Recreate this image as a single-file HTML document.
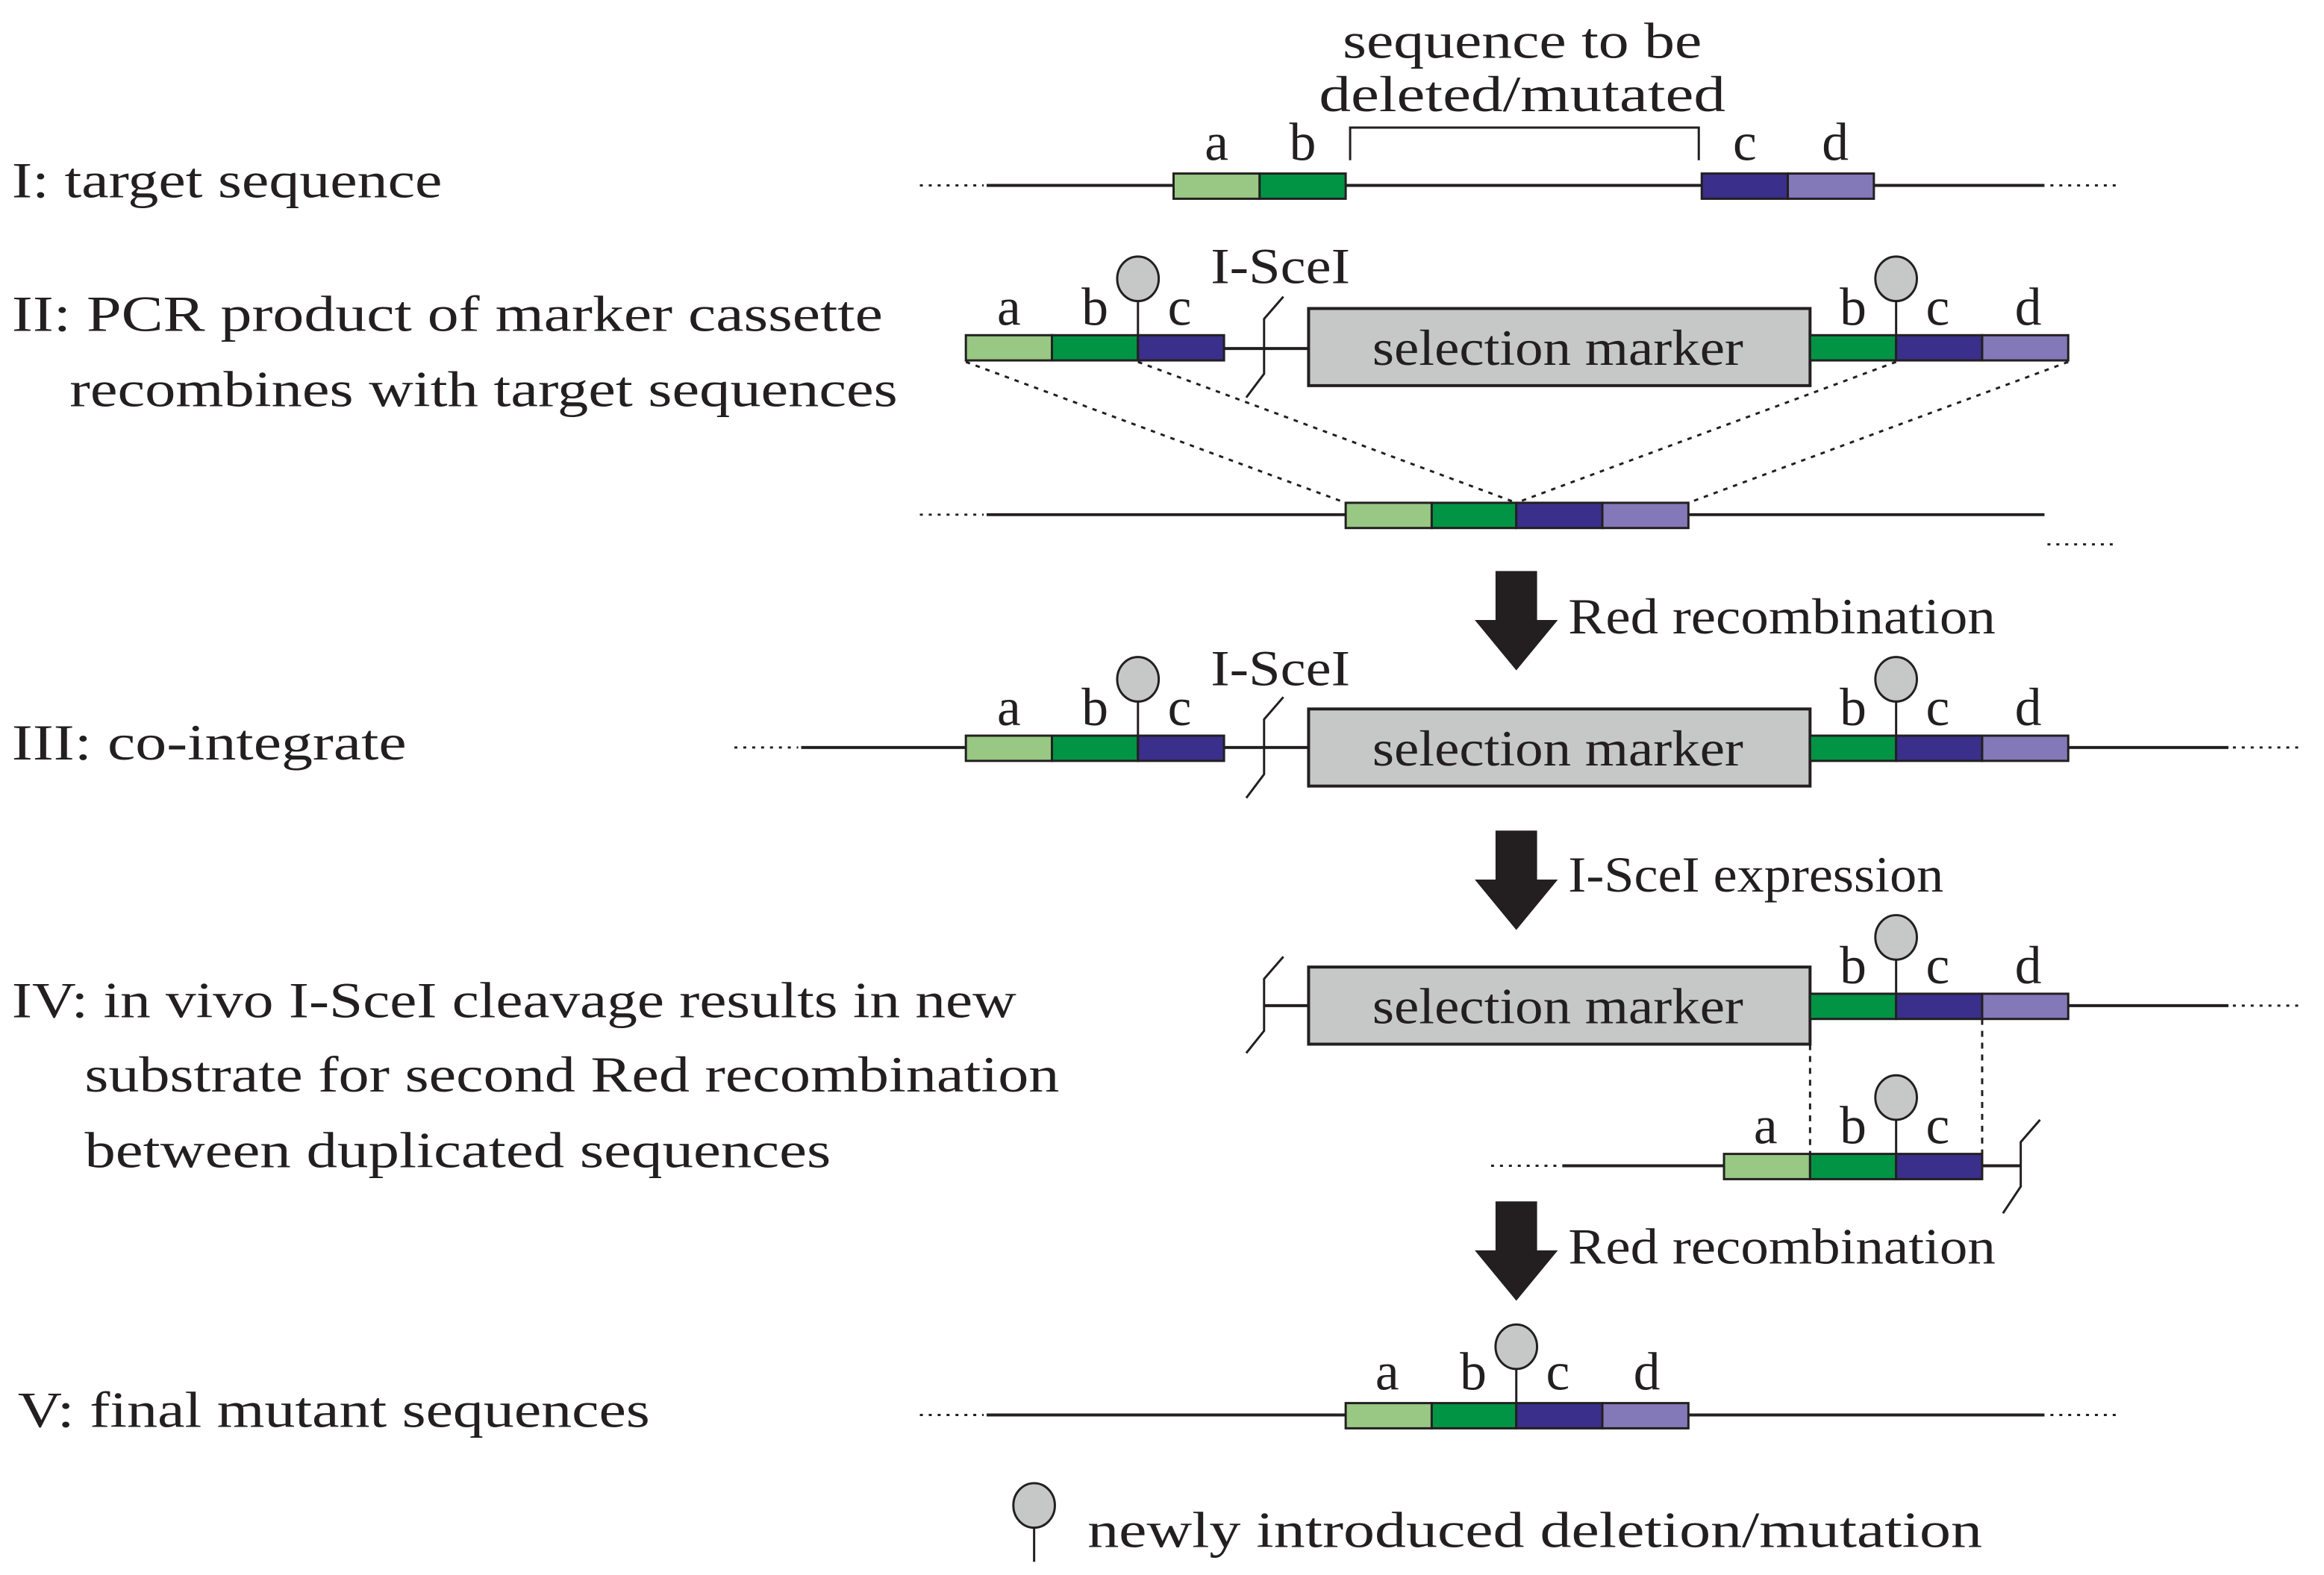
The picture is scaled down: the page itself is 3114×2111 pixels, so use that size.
<!DOCTYPE html>
<html><head><meta charset="utf-8"><style>html,body{margin:0;padding:0;background:#fff}svg{display:block}</style></head>
<body>
<svg width="3114" height="2111" viewBox="0 0 1566.4 1061.9" preserveAspectRatio="none" xmlns="http://www.w3.org/2000/svg" font-family="Liberation Serif, serif" fill="#231f20">
<defs>
<g id="lol"><line x1="0" y1="0" x2="0" y2="-24" stroke="#231f20" stroke-width="1.5"/><ellipse cx="0" cy="-38" rx="14" ry="15" fill="#c6c7c7" stroke="#231f20" stroke-width="1.5"/></g>
</defs>
<g stroke="#231f20" stroke-width="2" fill="none">
<line x1="665" y1="125" x2="1378" y2="125"/>
<line x1="620" y1="125" x2="663" y2="125" stroke-dasharray="2 4" stroke-width="1.5"/>
<line x1="1382" y1="125" x2="1428" y2="125" stroke-dasharray="2 4" stroke-width="1.5"/>
<polyline points="910,108 910,86 1145,86 1145,108" stroke-width="1.5"/>
<line x1="825" y1="235" x2="882" y2="235"/>
<polyline points="865,200 852,215 852,252 840,268" stroke-width="1.5"/>
<g stroke-dasharray="3 4" stroke-width="1.5">
<line x1="651" y1="244" x2="907" y2="339"/>
<line x1="767" y1="244" x2="1022" y2="339"/>
<line x1="1278" y1="244" x2="1022" y2="339"/>
<line x1="1394" y1="244" x2="1138" y2="339"/>
</g>
<line x1="665" y1="347" x2="1378" y2="347"/>
<line x1="620" y1="347" x2="663" y2="347" stroke-dasharray="2 4" stroke-width="1.5"/>
<line x1="1380" y1="367" x2="1428" y2="367" stroke-dasharray="2 4" stroke-width="1.5"/>
<line x1="540" y1="504" x2="1502" y2="504"/>
<line x1="495" y1="504" x2="538" y2="504" stroke-dasharray="2 4" stroke-width="1.5"/>
<line x1="1505" y1="504" x2="1550" y2="504" stroke-dasharray="2 4" stroke-width="1.5"/>
<polyline points="865,470 852,485 852,522 840,538" stroke-width="1.5"/>
<line x1="852" y1="678" x2="882" y2="678"/>
<polyline points="865,645 852,660 852,695 840,710" stroke-width="1.5"/>
<line x1="1394" y1="678" x2="1502" y2="678"/>
<line x1="1505" y1="678" x2="1550" y2="678" stroke-dasharray="2 4" stroke-width="1.5"/>
<line x1="1220" y1="704" x2="1220" y2="778" stroke-dasharray="4 4" stroke-width="1.5"/>
<line x1="1336" y1="687" x2="1336" y2="778" stroke-dasharray="4 4" stroke-width="1.5"/>
<line x1="1053" y1="786" x2="1162" y2="786"/>
<line x1="1005" y1="786" x2="1050" y2="786" stroke-dasharray="2 4" stroke-width="1.5"/>
<line x1="1336" y1="786" x2="1362" y2="786"/>
<polyline points="1375,755 1362,770 1362,800 1350,818" stroke-width="1.5"/>
<line x1="665" y1="954" x2="1378" y2="954"/>
<line x1="620" y1="954" x2="663" y2="954" stroke-dasharray="2 4" stroke-width="1.5"/>
<line x1="1382" y1="954" x2="1428" y2="954" stroke-dasharray="2 4" stroke-width="1.5"/>
</g>
<g stroke="#231f20" stroke-width="1.5">
<rect x="791" y="117" width="58" height="17" fill="#98c884"/><rect x="849" y="117" width="58" height="17" fill="#009444"/>
<rect x="1147" y="117" width="58" height="17" fill="#3a2f8a"/><rect x="1205" y="117" width="58" height="17" fill="#8379b8"/>
<rect x="651" y="226" width="58" height="17" fill="#98c884"/><rect x="709" y="226" width="58" height="17" fill="#009444"/><rect x="767" y="226" width="58" height="17" fill="#3a2f8a"/>
<rect x="882" y="208" width="338" height="52" fill="#c6c7c7" stroke-width="2"/>
<rect x="1220" y="226" width="58" height="17" fill="#009444"/><rect x="1278" y="226" width="58" height="17" fill="#3a2f8a"/><rect x="1336" y="226" width="58" height="17" fill="#8379b8"/>
<rect x="907" y="339" width="58" height="17" fill="#98c884"/><rect x="965" y="339" width="57" height="17" fill="#009444"/><rect x="1022" y="339" width="58" height="17" fill="#3a2f8a"/><rect x="1080" y="339" width="58" height="17" fill="#8379b8"/>
<rect x="651" y="496" width="58" height="17" fill="#98c884"/><rect x="709" y="496" width="58" height="17" fill="#009444"/><rect x="767" y="496" width="58" height="17" fill="#3a2f8a"/>
<rect x="882" y="478" width="338" height="52" fill="#c6c7c7" stroke-width="2"/>
<rect x="1220" y="496" width="58" height="17" fill="#009444"/><rect x="1278" y="496" width="58" height="17" fill="#3a2f8a"/><rect x="1336" y="496" width="58" height="17" fill="#8379b8"/>
<rect x="882" y="652" width="338" height="52" fill="#c6c7c7" stroke-width="2"/>
<rect x="1220" y="670" width="58" height="17" fill="#009444"/><rect x="1278" y="670" width="58" height="17" fill="#3a2f8a"/><rect x="1336" y="670" width="58" height="17" fill="#8379b8"/>
<rect x="1162" y="778" width="58" height="17" fill="#98c884"/><rect x="1220" y="778" width="58" height="17" fill="#009444"/><rect x="1278" y="778" width="58" height="17" fill="#3a2f8a"/>
<rect x="907" y="946" width="58" height="17" fill="#98c884"/><rect x="965" y="946" width="57" height="17" fill="#009444"/><rect x="1022" y="946" width="58" height="17" fill="#3a2f8a"/><rect x="1080" y="946" width="58" height="17" fill="#8379b8"/>
</g>
<use href="#lol" x="767" y="226"/><use href="#lol" x="1278" y="226"/>
<use href="#lol" x="767" y="496"/><use href="#lol" x="1278" y="496"/>
<use href="#lol" x="1278" y="670"/><use href="#lol" x="1278" y="778"/>
<use href="#lol" x="1022" y="946"/>
<use href="#lol" x="697" y="1053"/>
<g fill="#231f20">
<polygon points="1008,385 1036,385 1036,418 1050,418 1022,452 994,418 1008,418"/>
<polygon points="1008,560 1036,560 1036,593 1050,593 1022,627 994,593 1008,593"/>
<polygon points="1008,810 1036,810 1036,843 1050,843 1022,877 994,843 1008,843"/>
</g>
<g font-size="34">
<text x="8" y="133" textLength="290" lengthAdjust="spacingAndGlyphs">I: target sequence</text>
<text x="8" y="223" textLength="587" lengthAdjust="spacingAndGlyphs">II: PCR product of marker cassette</text>
<text x="47" y="274" textLength="558" lengthAdjust="spacingAndGlyphs">recombines with target sequences</text>
<text x="8" y="512" textLength="266" lengthAdjust="spacingAndGlyphs">III: co-integrate</text>
<text x="8" y="686" textLength="677" lengthAdjust="spacingAndGlyphs">IV: in vivo I-SceI cleavage results in new</text>
<text x="57" y="736" textLength="657" lengthAdjust="spacingAndGlyphs">substrate for second Red recombination</text>
<text x="57" y="787" textLength="503" lengthAdjust="spacingAndGlyphs">between duplicated sequences</text>
<text x="12" y="962" textLength="426" lengthAdjust="spacingAndGlyphs">V: final mutant sequences</text>
<text x="905" y="39" textLength="242" lengthAdjust="spacingAndGlyphs">sequence to be</text>
<text x="889" y="75" textLength="274" lengthAdjust="spacingAndGlyphs">deleted/mutated</text>
<text x="1057" y="427" textLength="288" lengthAdjust="spacingAndGlyphs">Red recombination</text>
<text x="1057" y="601" textLength="253" lengthAdjust="spacingAndGlyphs">I-SceI expression</text>
<text x="1057" y="852" textLength="288" lengthAdjust="spacingAndGlyphs">Red recombination</text>
<text x="733" y="1043" textLength="603" lengthAdjust="spacingAndGlyphs">newly introduced deletion/mutation</text>
<text x="925" y="246" textLength="250" lengthAdjust="spacingAndGlyphs">selection marker</text>
<text x="925" y="516" textLength="250" lengthAdjust="spacingAndGlyphs">selection marker</text>
<text x="925" y="690" textLength="250" lengthAdjust="spacingAndGlyphs">selection marker</text>
<text x="816" y="191" textLength="94" lengthAdjust="spacingAndGlyphs">I-SceI</text>
<text x="816" y="462" textLength="94" lengthAdjust="spacingAndGlyphs">I-SceI</text>
</g>
<g font-size="36" text-anchor="middle">
<text x="820" y="108">a</text><text x="878" y="108">b</text><text x="1176" y="108">c</text><text x="1237" y="108">d</text>
<text x="680" y="219">a</text><text x="738" y="219">b</text><text x="795" y="219">c</text><text x="1249" y="219">b</text><text x="1306" y="219">c</text><text x="1367" y="219">d</text>
<text x="680" y="489">a</text><text x="738" y="489">b</text><text x="795" y="489">c</text><text x="1249" y="489">b</text><text x="1306" y="489">c</text><text x="1367" y="489">d</text>
<text x="1249" y="663">b</text><text x="1306" y="663">c</text><text x="1367" y="663">d</text>
<text x="1190" y="771">a</text><text x="1249" y="771">b</text><text x="1306" y="771">c</text>
<text x="935" y="937">a</text><text x="993" y="937">b</text><text x="1050" y="937">c</text><text x="1110" y="937">d</text>
</g>
</svg>
</body></html>
